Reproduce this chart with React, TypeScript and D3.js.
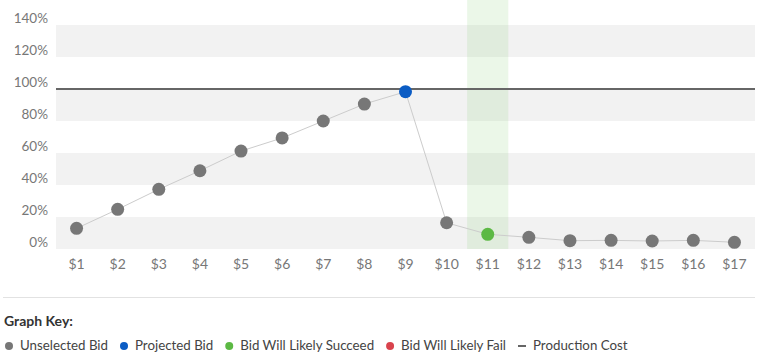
import React, { useRef, useEffect } from 'react';
import * as d3 from 'd3';

const categories = ['$1', '$2', '$3', '$4', '$5', '$6', '$7', '$8', '$9', '$10', '$11', '$12', '$13', '$14', '$15', '$16', '$17'];
const bidValues = [12.9, 24.8, 37.3, 48.9, 61.2, 69.4, 80, 90.6, 98.3, 16.4, 9.2, 7.3, 5.2, 5.4, 5.0, 5.4, 4.2];
// status of each bid: u = unselected, p = projected, s = likely succeed, f = likely fail
const bidStatus = ['u', 'u', 'u', 'u', 'u', 'u', 'u', 'u', 'p', 'u', 's', 'u', 'u', 'u', 'u', 'u', 'u'];
const yTicks = [0, 20, 40, 60, 80, 100, 120, 140];
const productionCost = 100;
const highlightCategory = '$11';
const legendItems = [
  { label: 'Unselected Bid', key: 'u' },
  { label: 'Projected Bid', key: 'p' },
  { label: 'Bid Will Likely Succeed', key: 's' },
  { label: 'Bid Will Likely Fail', key: 'f' },
  { label: 'Production Cost', key: 'line' },
];

const colors = { u: '#777777', p: '#0b5cc4', s: '#5cb944', f: '#d9434d', line: '#666666' };

const App = () => {
  const ref = useRef(null);

  useEffect(() => {
    const svg = d3.select(ref.current);
    svg.selectAll('*').remove();

    const font = 'Lato, "Open Sans", sans-serif';
    const left = 56, right = 755, top = 25, bottom = 249;

    const x = d3.scaleBand().domain(categories).range([left, right]);
    const y = d3.scaleLinear().domain([0, 140]).range([bottom, top]);

    // alternating bands
    const bands = svg.append('g');
    [0, 40, 80, 120].forEach(v => {
      bands.append('rect')
        .attr('x', left).attr('width', right - left)
        .attr('y', y(v + 20)).attr('height', y(v) - y(v + 20))
        .attr('fill', '#f2f2f2');
    });

    // highlighted column
    svg.append('rect')
      .attr('x', x(highlightCategory)).attr('width', x.bandwidth())
      .attr('y', 0).attr('height', bottom)
      .attr('fill', 'rgba(120, 200, 100, 0.15)');

    // production cost line
    svg.append('line')
      .attr('x1', left).attr('x2', right)
      .attr('y1', y(productionCost)).attr('y2', y(productionCost))
      .attr('stroke', colors.line).attr('stroke-width', 2);

    // y labels
    svg.append('g').selectAll('text').data(yTicks).join('text')
      .attr('x', 48).attr('y', d => y(d) - 5)
      .attr('text-anchor', 'end').attr('dominant-baseline', 'middle')
      .attr('font-family', font).attr('font-size', 13.5).attr('fill', '#777')
      .text(d => d + '%');

    // x labels
    svg.append('g').selectAll('text').data(categories).join('text')
      .attr('x', d => x(d) + x.bandwidth() / 2).attr('y', 265)
      .attr('text-anchor', 'middle').attr('dominant-baseline', 'middle')
      .attr('font-family', font).attr('font-size', 14).attr('fill', '#777')
      .text(d => d);

    const cx = (i) => x(categories[i]) + x.bandwidth() / 2;

    const line = d3.line().x((d, i) => cx(i)).y(d => y(d));
    svg.append('path').datum(bidValues)
      .attr('d', line).attr('fill', 'none')
      .attr('stroke', '#cccccc').attr('stroke-width', 1);

    svg.append('g').selectAll('circle').data(bidValues).join('circle')
      .attr('cx', (d, i) => cx(i)).attr('cy', d => y(d)).attr('r', 6.5)
      .attr('fill', (d, i) => colors[bidStatus[i]]);

    // separator
    svg.append('line')
      .attr('x1', 3).attr('x2', 755).attr('y1', 297.5).attr('y2', 297.5)
      .attr('stroke', '#e2e2e2').attr('stroke-width', 1);

    svg.append('text')
      .attr('x', 4).attr('y', 322).attr('dominant-baseline', 'middle')
      .attr('font-family', font).attr('font-size', 14).attr('font-weight', 'bold').attr('fill', '#333')
      .text('Graph Key:');

    // legend
    let lx = 4;
    const ly = 347;
    legendItems.forEach(item => {
      if (item.key === 'line') {
        svg.append('line')
          .attr('x1', lx + 1).attr('x2', lx + 9).attr('y1', ly - 1).attr('y2', ly - 1)
          .attr('stroke', colors.line).attr('stroke-width', 2);
      } else {
        svg.append('circle').attr('cx', lx + 5).attr('cy', ly - 1).attr('r', 4).attr('fill', colors[item.key]);
      }
      const t = svg.append('text')
        .attr('x', lx + 16).attr('y', ly).attr('dominant-baseline', 'middle')
        .attr('font-family', font).attr('font-size', 13.3).attr('fill', '#444')
        .text(item.label);
      const w = t.node().getComputedTextLength();
      lx = lx + 16 + w + 11;
    });
  }, []);

  return <svg ref={ref} width={776} height={363} style={{ position: 'absolute', left: 0, top: 0 }} />;
};

export default App;
